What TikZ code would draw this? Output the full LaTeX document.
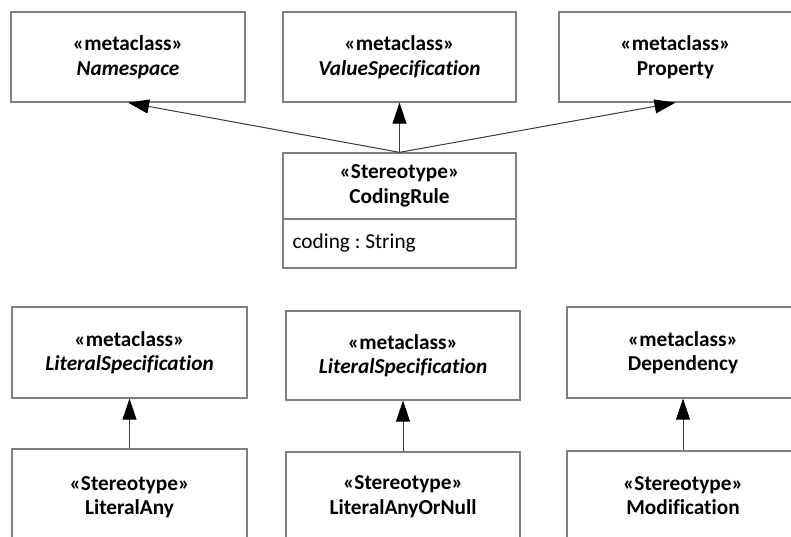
\documentclass[tikz,border=0pt]{standalone}
\usepackage{fontspec}
\setmainfont{Carlito}[Ligatures={NoCommon}]
\usetikzlibrary{arrows.meta}
\definecolor{boxgray}{HTML}{808080}
\definecolor{linegray}{HTML}{3A3A3A}
\tikzset{
  umlbox/.style={draw=boxgray, line width=1.3bp, rectangle, inner sep=0pt, align=center,
    font=\fontsize{21.3bp}{24.5bp}\selectfont\bfseries},
  attrbox/.style={draw=boxgray, line width=1.3bp, rectangle, inner sep=0pt,
    font=\fontsize{21.3bp}{24.5bp}\selectfont},
  genarrow/.style={draw=linegray, line width=1bp, -{Triangle[length=21bp,width=14bp,black]}}
}
\frenchspacing
\begin{document}
\begin{tikzpicture}[x=1bp,y=-1bp]
\useasboundingbox (0,0) rectangle (791,537);
\clip (0,0) rectangle (791,537);
% top row
\node[umlbox, minimum width=234bp, minimum height=90bp] (ns) at (128,57) {«metaclass»\\\textit{Namespace}};
\node[umlbox, minimum width=233bp, minimum height=90bp] (vs) at (399.5,57) {«metaclass»\\\textit{ValueSpecification}};
\node[umlbox, minimum width=233bp, minimum height=90bp] (prop) at (675.5,57) {«metaclass»\\Property};
% coding rule
\node[umlbox, minimum width=233bp, minimum height=66bp] (crh) at (399.5,186) {«Stereotype»\\CodingRule};
\node[attrbox, minimum width=233bp, minimum height=49bp] (cra) at (399.5,243.5) {};
\node[attrbox, draw=none, anchor=west] (craText) at (292,243) {coding : String};
% bottom row
\node[umlbox, minimum width=235bp, minimum height=91bp] (ls1) at (129.5,352.5) {«metaclass»\\\textit{LiteralSpecification}};
\node[umlbox, minimum width=235bp, minimum height=96bp] (la) at (129.5,497) {«Stereotype»\\LiteralAny};
\node[umlbox, minimum width=234bp, minimum height=89bp] (ls2) at (403,355.5) {«metaclass»\\\textit{LiteralSpecification}};
\node[umlbox, minimum width=234bp, minimum height=89bp] (lan) at (403,496.5) {«Stereotype»\\LiteralAnyOrNull};
\node[umlbox, minimum width=232bp, minimum height=91bp] (dep) at (683,352.5) {«metaclass»\\Dependency};
\node[umlbox, minimum width=232bp, minimum height=89bp] (mod) at (683,495.5) {«Stereotype»\\Modification};
% connectors
\draw[genarrow] (crh.north) -- (ns.south);
\draw[genarrow] (crh.north) -- (vs.south);
\draw[genarrow] (crh.north) -- (prop.south);
\draw[genarrow] (la.north) -- (ls1.south);
\draw[genarrow] (lan.north) -- (ls2.south);
\draw[genarrow] (mod.north) -- (dep.south);
\end{tikzpicture}
\end{document}
